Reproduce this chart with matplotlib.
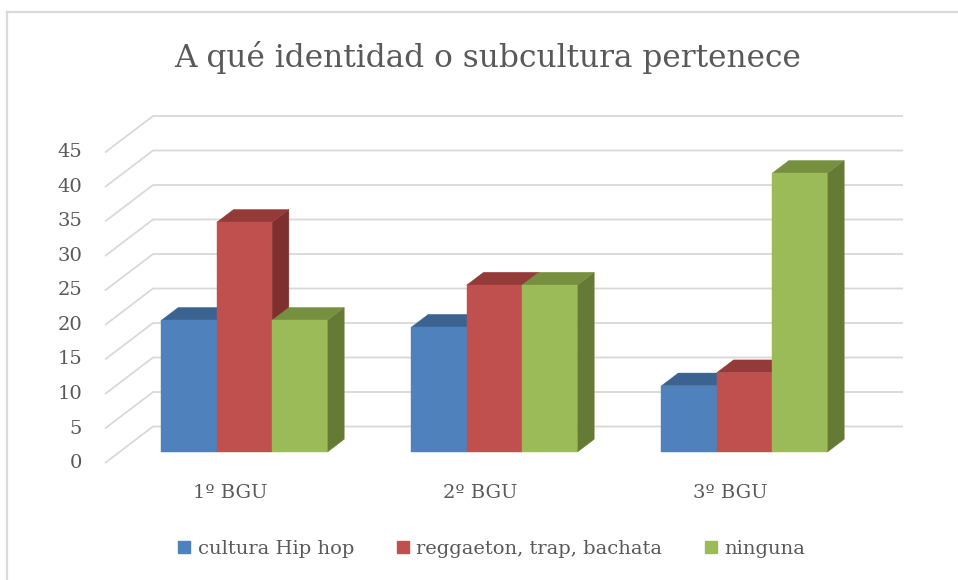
import matplotlib
matplotlib.use("Agg")
import matplotlib.pyplot as plt
from matplotlib.patches import Polygon, Patch
from matplotlib.lines import Line2D

# Data
categories = ["1º BGU", "2º BGU", "3º BGU"]
series_names = ["cultura Hip hop", "reggaeton, trap, bachata", "ninguna"]
hiphop = [19.1, 18.1, 9.6]
reggaeton = [33.3, 24.2, 11.5]
ninguna = [19.1, 24.2, 40.4]
yticks = [0, 5, 10, 15, 20, 25, 30, 35, 40, 45]

series = [hiphop, reggaeton, ninguna]
# face, top, side colours (Excel 2007 style)
colors = [("#4F81BD", "#3C6390", "#385D8A"),
          ("#C0504D", "#943B39", "#7E302E"),
          ("#9BBB59", "#76903F", "#657A34")]

text_color = "#595959"
grid_color = "#D9D9D9"
font = "DejaVu Serif"

W, H = 958, 580
fig = plt.figure(figsize=(W / 100, H / 100), dpi=100)

# front plane of the 3d box (pixel geometry of the reference)
left_px, right_px, base_px, top_px = 105, 855, 463, 152.5
ax = fig.add_axes([left_px / W, 1 - base_px / H,
                   (right_px - left_px) / W, (base_px - top_px) / H])
ax.set_xlim(0, 3)
ax.set_ylim(0, 45)
ax.axis("off")

# oblique offset from front to back wall (data units)
dx = 48 / 250
dy = 36.5 / ((base_px - top_px) / 45)

# gridlines: diagonal on the side, horizontal on the back wall
for v in yticks:
    ax.plot([0, dx, 3 + dx], [v, v + dy, v + dy], color=grid_color,
            lw=1.3, clip_on=False, zorder=1, solid_capstyle="butt")
    ax.text(-23 / 250, v, str(v), ha="right", va="center",
            fontsize=14, color=text_color, family=font)

# bars
bar_w = 0.2213
f0, depth = 0.30, 0.35
ox, oy = f0 * dx, f0 * dy
ddx, ddy = depth * dx, depth * dy

for i in range(len(categories)):
    start = i + 0.5 - 1.5 * bar_w
    for j, vals in enumerate(series):
        v = vals[i]
        x0 = start + j * bar_w + ox
        x1 = x0 + bar_w
        y0 = oy
        y1 = oy + v
        face, top, side = colors[j]
        ax.add_patch(Polygon([(x1, y0), (x1 + ddx, y0 + ddy), (x1 + ddx, y1 + ddy), (x1, y1)],
                             closed=True, facecolor=side, edgecolor=side, lw=0.3,
                             clip_on=False, zorder=3))
        ax.add_patch(Polygon([(x0, y1), (x1, y1), (x1 + ddx, y1 + ddy), (x0 + ddx, y1 + ddy)],
                             closed=True, facecolor=top, edgecolor=top, lw=0.3,
                             clip_on=False, zorder=3))
        ax.add_patch(Polygon([(x0, y0), (x1, y0), (x1, y1), (x0, y1)],
                             closed=True, facecolor=face, edgecolor=face, lw=0.3,
                             clip_on=False, zorder=3))

# category labels
for i, c in enumerate(categories):
    ax.text(i + 0.5, -4.4, c, ha="center", va="center", fontsize=14,
            color=text_color, family=font)

# title
fig.text(488 / W, 1 - 58 / H, "A qué identidad o subcultura pertenece",
         ha="center", va="center", fontsize=22.5, color=text_color, family=font)

# legend
handles = [Patch(facecolor=colors[k][0], edgecolor=colors[k][0]) for k in range(3)]
leg = fig.legend(handles, series_names, loc="center", bbox_to_anchor=(492 / W, 1 - 549 / H),
                 ncol=3, frameon=False, handlelength=0.6, handleheight=0.6,
                 handletextpad=0.4, columnspacing=2.2,
                 prop={"family": font, "size": 14})
for t in leg.get_texts():
    t.set_color(text_color)

# chart border (left and top edges visible in the crop)
fig.add_artist(Line2D([7 / W, 7 / W], [0, 1 - 12 / H], transform=fig.transFigure,
                      color=grid_color, lw=1.6))
fig.add_artist(Line2D([7 / W, 1], [1 - 12 / H, 1 - 12 / H], transform=fig.transFigure,
                      color=grid_color, lw=1.6))

fig.savefig("out.png", dpi=100)
